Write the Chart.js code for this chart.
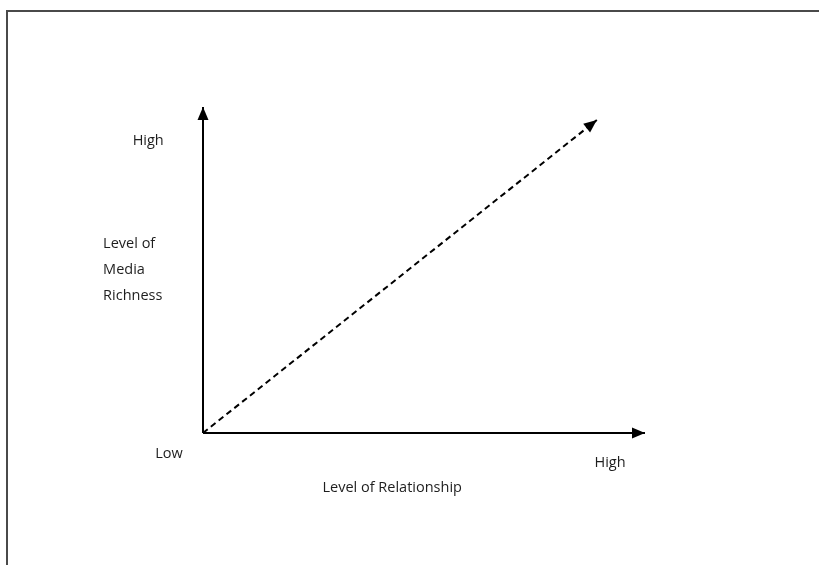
<!DOCTYPE html>
<html>
<head>
<meta charset="utf-8">
<script src="https://cdn.jsdelivr.net/npm/chart.js@4.4.1/dist/chart.umd.min.js"></script>
<style>
  html, body { margin: 0; padding: 0; background: #fff; overflow: hidden; }
  #wrap { position: relative; width: 819px; height: 565px; }
  #frame { position: absolute; left: 6px; top: 10px; width: 840px; height: 600px; border: 2px solid #4a4a4a; box-sizing: border-box; }
  #myChart { position: absolute; left: 0; top: 0; }
</style>
</head>
<body>
<div id="wrap">
  <div id="frame"></div>
  <canvas id="myChart" width="819" height="565"></canvas>
</div>
<script>
// Les lignes du schéma (unités arbitraires 0..10)
var yAxisLine = [{x: 0, y: 0}, {x: 0, y: 10}];
var xAxisLine = [{x: 0, y: 0}, {x: 10, y: 0}];
var trendLine = [{x: 0, y: 0}, {x: 8.91, y: 9.6}];

// Textes du schéma
var labelTexts = ['High', 'Level of', 'Media', 'Richness', 'Low', 'High', 'Level of Relationship'];
var labelX = [-1.24, -2.26, -2.26, -2.26, -0.77, 9.21, 4.28];
var labelY = [8.97, 5.81, 5.01, 4.21, -0.63, -0.91, -1.68];
var labelAlign = ['center', 'left', 'left', 'left', 'center', 'center', 'center'];

// Plugin pour dessiner les flèches et les textes
var arrowPlugin = {
    id: 'arrows',
    afterDatasetsDraw: function(chart) {
        var ctx = chart.ctx;
        var xs = chart.scales.x, ys = chart.scales.y;
        ctx.save();
        chart.data.datasets.forEach(function(ds) {
            var n = ds.data.length;
            var p1 = ds.data[n - 2], p2 = ds.data[n - 1];
            var x1 = xs.getPixelForValue(p1.x), y1 = ys.getPixelForValue(p1.y);
            var x2 = xs.getPixelForValue(p2.x), y2 = ys.getPixelForValue(p2.y);
            var a = Math.atan2(y2 - y1, x2 - x1);
            var len = 13, half = 5.5;
            ctx.fillStyle = '#000';
            ctx.beginPath();
            ctx.moveTo(x2, y2);
            ctx.lineTo(x2 - len * Math.cos(a) + half * Math.sin(a), y2 - len * Math.sin(a) - half * Math.cos(a));
            ctx.lineTo(x2 - len * Math.cos(a) - half * Math.sin(a), y2 - len * Math.sin(a) + half * Math.cos(a));
            ctx.closePath();
            ctx.fill();
        });
        ctx.font = '14.5px "Open Sans", sans-serif';
        ctx.fillStyle = '#1e1e1e';
        ctx.textBaseline = 'middle';
        labelTexts.forEach(function(t, i) {
            ctx.textAlign = labelAlign[i];
            ctx.fillText(t, xs.getPixelForValue(labelX[i]), ys.getPixelForValue(labelY[i]));
        });
        ctx.restore();
    }
};

var ctx = document.getElementById('myChart').getContext('2d');
var myChart = new Chart(ctx, {
    type: 'scatter',
    data: {
        datasets: [{
            data: yAxisLine,
            showLine: true,
            borderColor: '#000',
            borderWidth: 2,
            pointRadius: 0,
            clip: false
        }, {
            data: xAxisLine,
            showLine: true,
            borderColor: '#000',
            borderWidth: 2,
            pointRadius: 0,
            clip: false
        }, {
            data: trendLine,
            showLine: true,
            borderColor: '#000',
            borderWidth: 2,
            borderDash: [6, 4],
            pointRadius: 0,
            clip: false
        }]
    },
    options: {
        responsive: false,
        animation: false,
        layout: { padding: { left: 203, right: 174, top: 107, bottom: 132 } },
        plugins: { legend: { display: false }, tooltip: { enabled: false } },
        scales: {
            x: { type: 'linear', min: 0, max: 10, display: false },
            y: { type: 'linear', min: 0, max: 10, display: false }
        }
    },
    plugins: [arrowPlugin]
});
</script>
</body>
</html>
